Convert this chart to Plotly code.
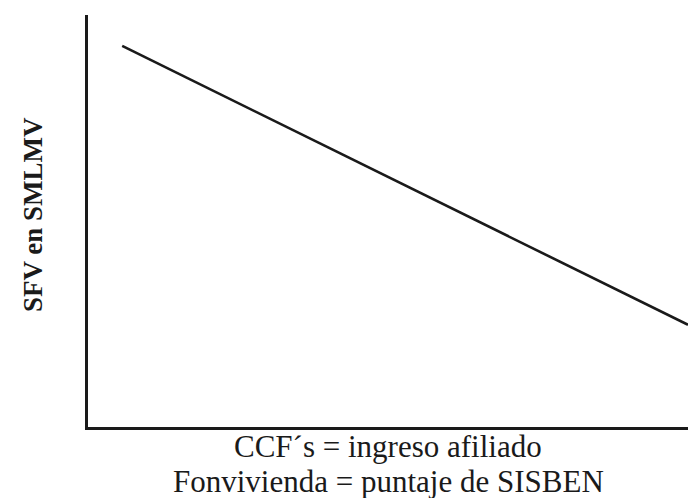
import plotly.graph_objects as go

# Schematic data (arbitrary units)
x_vals = [0.57, 10.0]
y_vals = [9.25, 2.48]
x_title_lines = ["CCF´s = ingreso afiliado", "Fonvivienda = puntaje de SISBEN"]
y_title = "SFV en SMLMV"

fig = go.Figure()
fig.add_trace(go.Scatter(x=x_vals, y=y_vals, mode="lines",
                         line=dict(color="#1a1a1a", width=2.6),
                         hoverinfo="skip", showlegend=False))

fig.update_layout(
    width=688, height=498,
    margin=dict(l=88, r=0, t=15, b=71),
    paper_bgcolor="white", plot_bgcolor="white",
    font=dict(family="Liberation Serif", color="#1a1a1a"),
    xaxis=dict(range=[0, 10], showline=True, linecolor="#1a1a1a", linewidth=3,
               showgrid=False, zeroline=False, showticklabels=False, ticks=""),
    yaxis=dict(range=[0, 10], showline=True, linecolor="#1a1a1a", linewidth=3,
               showgrid=False, zeroline=False, showticklabels=False, ticks=""),
)

fig.add_annotation(text=x_title_lines[0], xref="paper", yref="paper",
                   x=0.5, y=0, yshift=-19, xanchor="center", yanchor="middle",
                   showarrow=False, font=dict(size=31, family="Liberation Serif"))
fig.add_annotation(text=x_title_lines[1], xref="paper", yref="paper",
                   x=0.5, y=0, yshift=-54, xanchor="center", yanchor="middle",
                   showarrow=False, font=dict(size=31, family="Liberation Serif"))
fig.add_annotation(text="<b>" + y_title + "</b>", xref="paper", yref="paper",
                   x=0, xshift=-55, y=0.5, yshift=6, xanchor="center", yanchor="middle",
                   textangle=-90, showarrow=False,
                   font=dict(size=27, family="Liberation Serif"))

fig.write_html(
    "out.html",
    config={"displayModeBar": False, "staticPlot": True},
    post_script="document.body.style.margin='0';document.body.style.overflow='hidden';",
)
